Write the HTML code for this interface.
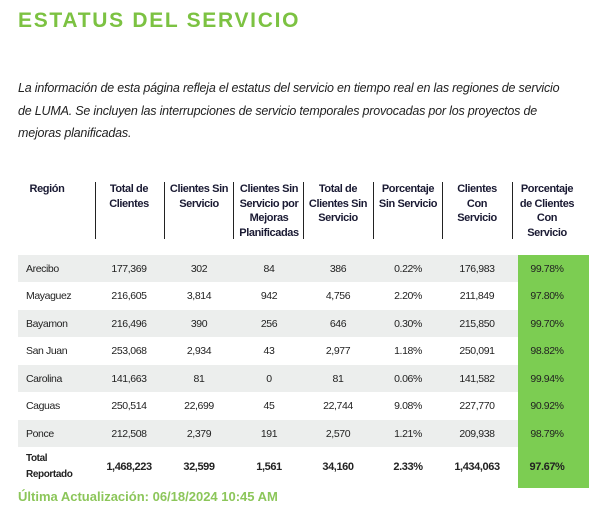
<!DOCTYPE html>
<html><head><style>
body{margin:0;width:613px;height:529px;background:#fff;font-family:"Liberation Sans",sans-serif;position:relative;overflow:hidden;color:#222}
.t{position:absolute;left:18px;top:9px;font-size:21px;font-weight:bold;letter-spacing:1.7px;color:#7cc242}
.p{position:absolute;left:18px;top:77px;font-size:12.5px;letter-spacing:-0.2px;font-style:italic;line-height:22.5px;color:#222;white-space:nowrap}
.h{position:absolute;top:182px;width:70px;font-size:11px;letter-spacing:-0.4px;font-weight:bold;line-height:14.5px;text-align:center;color:#1a1a33;white-space:nowrap}
.v{position:absolute;top:182px;height:57px;border-left:1.5px solid #222}
.row{position:absolute;left:18px;width:500px;height:27px}
.g{background:#eceeed}
.green{position:absolute;left:518px;top:255px;width:71px;height:233px;background:#7ccd52}
.c{position:absolute;font-size:10.5px;text-align:center;width:70px;transform:translateY(-50%);letter-spacing:-0.4px}
.b{font-weight:bold;font-size:11px}
.f{position:absolute;left:18px;top:489px;font-size:13px;font-weight:bold;color:#8cc65a}
</style></head><body>
<div class="t">ESTATUS DEL SERVICIO</div>
<div class="p">La información de esta página refleja el estatus del servicio en tiempo real en las regiones de servicio<br>de LUMA. Se incluyen las interrupciones de servicio temporales provocadas por los proyectos de<br>mejoras planificadas.</div>
<div class="h" style="left:12px">Región</div>
<div class="h" style="left:94px">Total de<br>Clientes</div>
<div class="h" style="left:164px">Clientes Sin<br>Servicio</div>
<div class="h" style="left:234px">Clientes Sin<br>Servicio por<br>Mejoras<br>Planificadas</div>
<div class="h" style="left:303px">Total de<br>Clientes Sin<br>Servicio</div>
<div class="h" style="left:373px">Porcentaje<br>Sin Servicio</div>
<div class="h" style="left:442px">Clientes<br>Con<br>Servicio</div>
<div class="h" style="left:512px">Porcentaje<br>de Clientes<br>Con<br>Servicio</div>
<div class="v" style="left:95px"></div><div class="v" style="left:164px"></div><div class="v" style="left:233px"></div><div class="v" style="left:303px"></div><div class="v" style="left:373px"></div><div class="v" style="left:442px"></div><div class="v" style="left:512px"></div>
<div class="row g" style="top:255px"></div>
<div class="row g" style="top:310px"></div>
<div class="row g" style="top:365px"></div>
<div class="row g" style="top:420px"></div>
<div class="green"></div>
<div id="d"></div>
<script>
var rows=[["Arecibo","177,369","302","84","386","0.22%","176,983","99.78%"],
["Mayaguez","216,605","3,814","942","4,756","2.20%","211,849","97.80%"],
["Bayamon","216,496","390","256","646","0.30%","215,850","99.70%"],
["San Juan","253,068","2,934","43","2,977","1.18%","250,091","98.82%"],
["Carolina","141,663","81","0","81","0.06%","141,582","99.94%"],
["Caguas","250,514","22,699","45","22,744","9.08%","227,770","90.92%"],
["Ponce","212,508","2,379","191","2,570","1.21%","209,938","98.79%"],
["Total<br>Reportado","1,468,223","32,599","1,561","34,160","2.33%","1,434,063","97.67%"]];
var cx=[0,129,199,269,338,408,477,547],h="";
rows.forEach(function(r,i){var y=i<7?268.5+i*27.5:467;var b=i==7?" b":"";
h+='<div class="c'+b+'" style="left:26px;text-align:left;top:'+y+'px;'+(i==7?'font-size:10px;line-height:16px':'')+'">'+r[0]+'</div>';
for(var j=1;j<8;j++)h+='<div class="c'+b+'" style="left:'+(cx[j]-35)+'px;top:'+y+'px">'+r[j]+'</div>';});
document.getElementById("d").innerHTML=h;
</script>
<div class="f">Última Actualización: 06/18/2024 10:45 AM</div>
</body></html>
